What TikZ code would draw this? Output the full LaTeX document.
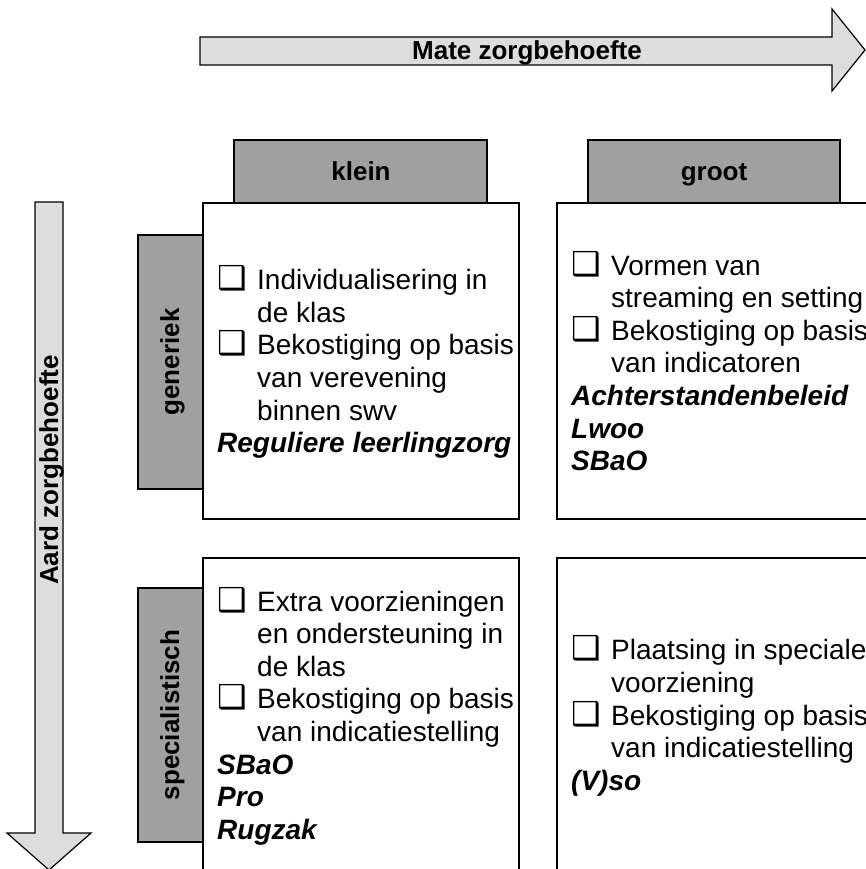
\documentclass[tikz,border=0pt]{standalone}
\usepackage{fontspec}
\setmainfont{Liberation Sans}
\newfontfamily\symfont{DejaVu Sans}
\definecolor{tabgray}{RGB}{160,160,160}
\definecolor{arrowgray}{RGB}{221,221,221}
\newcommand{\bodyfont}{\fontsize{28}{32.6}\selectfont}
\newcommand{\bitem}[1]{\par\hangindent=40pt\hangafter=1\noindent\makebox[40pt][l]{\raisebox{0pt}{\fontsize{33}{0}\symfont ❑}}#1\par}
\newcommand{\bline}[1]{\par\noindent\textbf{\textit{#1}}\par}
\newenvironment{cellbody}{\begin{minipage}{420pt}\bodyfont\parindent=0pt\parskip=0pt}{\end{minipage}}
\begin{document}
\begin{tikzpicture}[x=1pt,y=-1pt,
  tabbox/.style={draw=black,line width=1.2pt,fill=tabgray},
  cellbox/.style={draw=black,line width=1.2pt,fill=white},
  bigarrow/.style={draw=black,line width=1.2pt,fill=arrowgray,line join=miter},
  headlabel/.style={font=\fontsize{26}{30}\selectfont\bfseries,inner sep=0pt},
  cellcontent/.style={inner sep=0pt,anchor=west}]
\useasboundingbox (0,0) rectangle (865,869);
% top arrow
\draw[bigarrow] (200,37) -- (832,37) -- (832,9) -- (865,50) -- (832,91) -- (832,65) -- (200,65) -- cycle;
\node[headlabel,anchor=base] (mate) at (527,60) {Mate zorgbehoefte};
% left arrow
\draw[bigarrow] (35,202) -- (63,202) -- (63,833) -- (91,833) -- (49,870) -- (7,833) -- (35,833) -- cycle;
\node[headlabel,rotate=90,anchor=base] (aard) at (58,470) {Aard zorgbehoefte};
% tabs
\draw[tabbox] (234,140) rectangle (487,210);
\draw[tabbox] (588,140) rectangle (840,210);
\draw[tabbox] (138,235) rectangle (210,489);
\draw[tabbox] (138,588) rectangle (210,842);
\node[headlabel,anchor=base] (klein) at (361,181) {klein};
\node[headlabel,anchor=base] (groot) at (714,181) {groot};
\node[headlabel,rotate=90,anchor=base] (generiek) at (179,362) {generiek};
\node[headlabel,rotate=90,anchor=base] (spec) at (179,715) {specialistisch};
% cells
\draw[cellbox] (203,203) rectangle (519,519);
\draw[cellbox] (557,203) rectangle (880,519);
\draw[cellbox] (203,558) rectangle (519,880);
\draw[cellbox] (557,558) rectangle (880,880);
\coordinate (c11) at (217,362);
\coordinate (c12) at (571,361);
\coordinate (c21) at (217,716);
\coordinate (c22) at (571,716);
\node[cellcontent] (t11) at (c11) {\begin{cellbody}
\bitem{Individualisering in\\de klas}
\bitem{Bekostiging op basis\\van verevening\\binnen swv}
\bline{Reguliere leerlingzorg}
\end{cellbody}};
\node[cellcontent] (t12) at (c12) {\begin{cellbody}
\bitem{Vormen van\\streaming en setting}
\bitem{Bekostiging op basis\\van indicatoren}
\bline{Achterstandenbeleid}
\bline{Lwoo}
\bline{SBaO}
\end{cellbody}};
\node[cellcontent] (t21) at (c21) {\begin{cellbody}
\bitem{Extra voorzieningen\\en ondersteuning in\\de klas}
\bitem{Bekostiging op basis\\van indicatiestelling}
\bline{SBaO}
\bline{Pro}
\bline{Rugzak}
\end{cellbody}};
\node[cellcontent] (t22) at (c22) {\begin{cellbody}
\bitem{Plaatsing in speciale\\voorziening}
\bitem{Bekostiging op basis\\van indicatiestelling}
\bline{(V)so}
\end{cellbody}};
\end{tikzpicture}
\end{document}
